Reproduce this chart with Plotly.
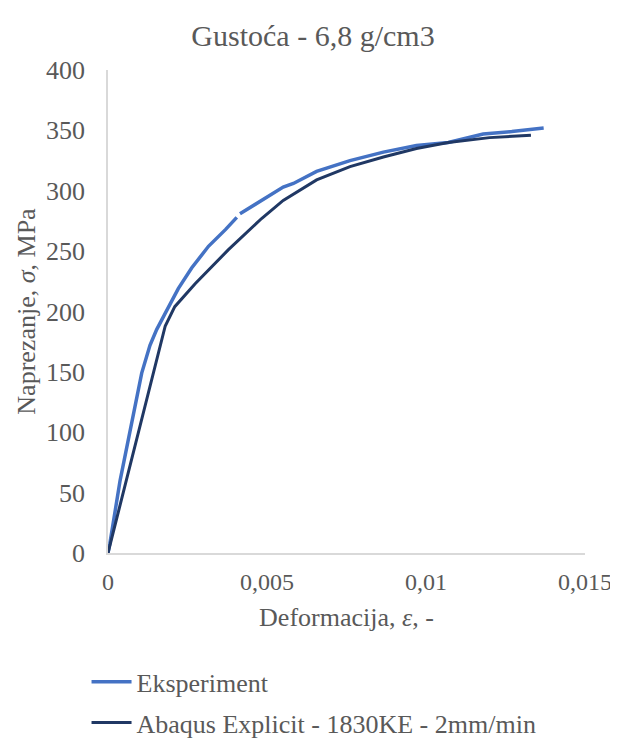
import plotly.graph_objects as go

# Eksperiment (measured curve); None marks the small break in the recorded line
exp_strain = [0, 0.00006, 0.00038, 0.00064, 0.00085, 0.00106, 0.00132, 0.00153, 0.00179, 0.00221,
              0.00263, 0.00316, 0.0037, 0.00405, None, 0.00415, 0.00483, 0.00551, 0.00583, 0.00656,
              0.00761, 0.00866, 0.0097, 0.0107, 0.0118, 0.0127, 0.0137]
exp_stress = [0, 8, 60, 93, 121, 149, 172, 185, 198, 219,
              236, 254, 268, 278, None, 281, 292, 303, 306, 316,
              325, 332, 337.5, 340, 347, 349, 352]

# Abaqus Explicit simulation
abq_strain = [0, 0.0018, 0.0021, 0.00274, 0.00378, 0.00483, 0.00551, 0.00656, 0.00761, 0.00866,
              0.0097, 0.0107, 0.012, 0.0133]
abq_stress = [0, 188, 204, 223, 251, 277, 292, 309, 320, 328, 335, 340, 344, 346]

x_ticks = [0, 0.005, 0.01, 0.015]
x_tick_text = ['0', '0,005', '0,01', '0,015']

grey = '#595959'
font = 'Liberation Serif, Times New Roman, serif'

fig = go.Figure()
fig.add_trace(go.Scatter(x=exp_strain, y=exp_stress, mode='lines', name='Eksperiment',
                         legendgroup='exp', line=dict(color='#4472C4', width=3.5)))
fig.add_trace(go.Scatter(x=abq_strain, y=abq_stress, mode='lines',
                         name='Abaqus Explicit - 1830KE - 2mm/min', legendgroup='abq',
                         line=dict(color='#203864', width=3)))

# page body has an 8px margin, so the figure is a bit smaller and margins shifted
fig.update_layout(
    width=610, height=732,
    margin=dict(l=100, r=33, t=62, b=187, autoexpand=False),
    paper_bgcolor='white', plot_bgcolor='white',
    font=dict(family=font, color=grey, size=26),
    title=dict(text='Gustoća - 6,8 g/cm3', x=0.5, xanchor='center', y=0.962, yanchor='middle',
               font=dict(size=30, color=grey)),
    xaxis=dict(range=[0, 0.015], tickvals=x_ticks, ticktext=x_tick_text, showgrid=False,
               zeroline=False, showline=True, linecolor='#d9d9d9', linewidth=1.5, ticks='',
               ticklabelstandoff=6, tickfont=dict(size=24), automargin=False,
               title=dict(text='Deformacija, <i>ε</i>, -', standoff=14, font=dict(size=26))),
    yaxis=dict(range=[0, 400], dtick=50, showgrid=False, zeroline=False, showline=True,
               linecolor='#d9d9d9', linewidth=1.5, ticks='', ticklabelstandoff=16,
               tickfont=dict(size=26), automargin=False,
               title=dict(text='Naprezanje, <i>σ</i>, MPa', standoff=3, font=dict(size=26))),
    legend=dict(orientation='v', x=-0.045, xanchor='left', y=-0.218, yanchor='top',
                font=dict(size=26, color=grey), itemwidth=40, tracegroupgap=4),
)

fig.write_html('out.html')
